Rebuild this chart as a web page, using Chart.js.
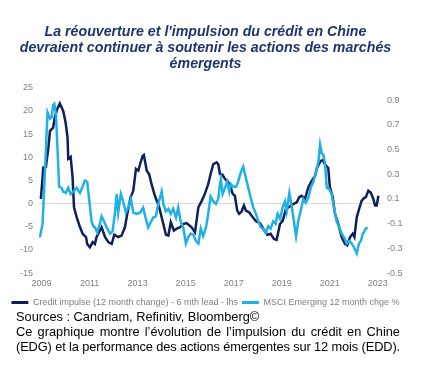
<!DOCTYPE html>
<html><head><meta charset="utf-8">
<script src="https://cdn.jsdelivr.net/npm/chart.js@4.4.1/dist/chart.umd.min.js"></script>
<style>
html,body{margin:0;padding:0;background:#fff;width:431px;height:372px;overflow:hidden}
#wrap{position:absolute;left:0;top:0;width:431px;height:317px}
#src{position:absolute;left:16px;top:309px;width:384px;font-family:'Liberation Sans',Arial,sans-serif;font-size:12.8px;line-height:15px;color:#000}
.j{text-align:justify;text-align-last:justify}
.t{letter-spacing:-0.12px}
</style></head><body>
<div id="wrap"><canvas id="c" width="431" height="317"></canvas></div>
<div id="src"><div>Sources : Candriam, Refinitiv, Bloomberg©</div><div class="j">Ce graphique montre l’évolution de l’impulsion du crédit en Chine</div><div class="j t">(EDG) et la performance des actions émergentes sur 12 mois (EDD).</div></div>
<script>
// Credit impulse (12 month change) - 6 mth lead - lhs
const creditDates = [2008.97,2009.07,2009.18,2009.28,2009.35,2009.48,2009.55,2009.65,2009.76,2009.90,2010.00,2010.08,2010.11,2010.21,2010.29,2010.35,2010.46,2010.60,2010.71,2010.85,2010.90,2011.01,2011.13,2011.22,2011.29,2011.43,2011.50,2011.64,2011.78,2011.92,2012.03,2012.19,2012.33,2012.47,2012.57,2012.71,2012.82,2012.93,2013.03,2013.10,2013.21,2013.26,2013.38,2013.48,2013.58,2013.72,2013.90,2014.07,2014.18,2014.28,2014.38,2014.51,2014.63,2014.76,2014.90,2015.04,2015.25,2015.39,2015.53,2015.67,2015.80,2015.94,2016.04,2016.15,2016.29,2016.36,2016.43,2016.54,2016.64,2016.78,2016.88,2016.96,2017.05,2017.15,2017.23,2017.33,2017.43,2017.51,2017.65,2017.79,2017.93,2018.10,2018.23,2018.40,2018.54,2018.68,2018.79,2018.93,2019.04,2019.18,2019.35,2019.48,2019.63,2019.73,2019.83,2019.97,2020.11,2020.25,2020.39,2020.48,2020.63,2020.71,2020.80,2020.94,2021.01,2021.13,2021.22,2021.36,2021.50,2021.64,2021.73,2021.85,2021.96,2022.03,2022.13,2022.23,2022.33,2022.43,2022.51,2022.61,2022.71,2022.82,2022.89,2022.96,2023.03];
const creditValues = [1.0,7.8,7.9,12.0,15.7,16.4,18.6,20.4,21.6,20.0,17.5,14.3,9.7,10.1,5.7,-0.8,-2.9,-5.1,-6.5,-7.2,-8.7,-9.4,-8.3,-8.7,-7.2,-5.8,-5.1,-7.2,-8.3,-8.7,-6.7,-7.2,-6.9,-5.1,-2.2,1.4,2.8,7.5,7.1,8.5,10.3,10.5,7.1,6.4,4.2,1.7,-0.8,-4.4,-6.7,-6.9,-4.0,-5.8,-5.4,-5.1,-4.4,-4.2,-5.1,-6.2,-0.8,0.6,2.1,4.2,6.4,8.5,8.9,8.5,6.4,6.2,5.3,4.6,3.5,2.1,1.7,-1.5,-2.2,-1.7,-0.4,-1.5,-1.9,-2.9,-3.8,-4.2,-5.4,-6.7,-6.5,-7.6,-7.8,-4.4,-3.7,-1.1,-0.6,-0.1,0.3,1.4,1.7,1.0,3.5,4.9,6.0,7.8,9.2,9.4,8.5,7.7,3.5,1.4,-2.2,-4.4,-7.2,-8.7,-9.0,-7.2,-6.5,-7.2,-2.9,-1.1,0.6,1.2,1.4,2.8,2.4,1.0,-0.4,-0.4,1.7];
// MSCI Emerging 12 month chge % - rhs
const msciDates = [2008.93,2009.04,2009.14,2009.21,2009.25,2009.35,2009.42,2009.48,2009.53,2009.60,2009.65,2009.73,2009.83,2009.90,2010.01,2010.11,2010.21,2010.32,2010.46,2010.60,2010.71,2010.80,2010.90,2010.98,2011.08,2011.15,2011.22,2011.32,2011.43,2011.50,2011.60,2011.71,2011.85,2011.96,2012.05,2012.13,2012.19,2012.30,2012.40,2012.51,2012.61,2012.72,2012.82,2012.96,2013.10,2013.23,2013.33,2013.44,2013.54,2013.65,2013.76,2013.86,2013.93,2014.00,2014.07,2014.18,2014.28,2014.38,2014.48,2014.60,2014.69,2014.79,2014.90,2015.01,2015.11,2015.21,2015.32,2015.43,2015.53,2015.63,2015.73,2015.85,2015.94,2016.04,2016.15,2016.26,2016.36,2016.43,2016.47,2016.54,2016.64,2016.73,2016.82,2016.88,2016.98,2017.10,2017.19,2017.29,2017.40,2017.51,2017.61,2017.71,2017.82,2017.93,2018.03,2018.13,2018.23,2018.35,2018.44,2018.54,2018.65,2018.75,2018.83,2018.93,2019.04,2019.14,2019.21,2019.32,2019.42,2019.51,2019.60,2019.69,2019.79,2019.90,2020.01,2020.11,2020.21,2020.32,2020.43,2020.53,2020.60,2020.67,2020.73,2020.80,2020.88,2020.98,2021.08,2021.18,2021.29,2021.40,2021.50,2021.60,2021.71,2021.82,2021.92,2022.01,2022.13,2022.22,2022.30,2022.38,2022.43,2022.50,2022.58];
const msciValues = [-0.21,-0.10,0.32,0.64,0.80,0.75,0.76,0.86,0.87,0.78,0.56,0.20,0.19,0.16,0.15,0.19,0.14,0.16,0.19,0.15,0.20,0.25,0.24,0.10,-0.08,-0.12,-0.13,-0.17,-0.10,-0.04,-0.08,-0.13,-0.18,-0.16,-0.02,0.14,-0.01,0.14,0.08,-0.01,0.03,0.10,-0.01,-0.02,-0.01,0.03,-0.05,-0.13,-0.09,-0.05,-0.04,0.06,0.11,0.16,0.06,0.00,0.02,-0.02,0.02,-0.05,0.03,-0.08,-0.13,-0.26,-0.21,-0.18,-0.19,-0.24,-0.26,-0.14,-0.20,-0.13,-0.02,0.12,0.08,0.06,0.10,0.22,0.26,0.14,0.19,0.24,0.16,0.22,0.20,0.20,0.24,0.31,0.36,0.27,0.19,0.11,0.03,-0.02,-0.08,-0.13,-0.14,-0.17,-0.12,-0.14,-0.08,-0.10,-0.02,-0.06,0.03,0.08,0.00,0.15,0.04,-0.08,-0.20,-0.08,0.00,0.10,0.07,0.11,0.19,0.24,0.32,0.40,0.54,0.47,0.46,0.40,0.19,0.18,0.14,0.03,-0.08,-0.13,-0.18,-0.21,-0.26,-0.24,-0.26,-0.29,-0.34,-0.26,-0.24,-0.18,-0.17,-0.14,-0.13];
const xTicks = [2009,2011,2013,2015,2017,2019,2021,2023];
const leftTicks = [-15,-10,-5,0,5,10,15,20,25];
const rightTicks = [-0.5,-0.3,-0.1,0.1,0.3,0.5,0.7,0.9];
const seriesNames = ['Credit impulse (12 month change) - 6 mth lead - lhs','MSCI Emerging 12 month chge %'];
const titleLines = ["La réouverture et l'impulsion du crédit en Chine","devraient continuer à soutenir les actions des marchés","émergents"];

const F = "'Liberation Sans', Arial, sans-serif";
const darkC = '#0f1f5c', lightC = '#1fb0e8', tickC = '#7f7f7f';
const pts = (xs, ys) => xs.map((x, i) => ({x, y: ys[i]}));

new Chart(document.getElementById('c'), {
  type: 'line',
  data: {
    datasets: [
      {label: seriesNames[0], data: pts(creditDates, creditValues), yAxisID: 'yL', borderColor: darkC, backgroundColor: darkC, borderWidth: 2.5, pointRadius: 0, tension: 0, order: 1},
      {label: seriesNames[1], data: pts(msciDates, msciValues), yAxisID: 'yR', borderColor: lightC, backgroundColor: lightC, borderWidth: 2.5, pointRadius: 0, tension: 0, order: 0}
    ]
  },
  options: {
    responsive: false, animation: false, devicePixelRatio: 1,
    layout: {padding: {left: 0, right: 20, top: 0, bottom: 0}},
    plugins: {
      tooltip: {enabled: false},
      title: {display: true, text: titleLines, color: '#1f3470', font: {family: F, size: 14.2, weight: 'bold', style: 'italic', lineHeight: 1.12}, padding: {top: 24, bottom: 16}},
      legend: {
        display: true, position: 'bottom', align: 'center',
        labels: {
          color: tickC, font: {family: F, size: 9}, boxWidth: 17, boxHeight: 3, padding: 4,
          generateLabels: ch => ch.data.datasets.map((d, i) => ({text: d.label, fillStyle: d.borderColor, strokeStyle: 'rgba(0,0,0,0)', lineWidth: 0, datasetIndex: i, fontColor: tickC}))
        }
      }
    },
    scales: {
      x: {
        type: 'linear', min: 2008.85, max: 2023.18,
        afterBuildTicks: s => { s.ticks = xTicks.map(v => ({value: v})); },
        ticks: {color: tickC, font: {family: F, size: 9}, padding: 5, maxRotation: 0, autoSkip: false, callback: v => String(v)},
        grid: {display: false, drawTicks: false}, border: {display: false}
      },
      yL: {
        position: 'left', min: -15, max: 25,
        afterBuildTicks: s => { s.ticks = leftTicks.map(v => ({value: v})); },
        afterFit: s => { s.width = 38; },
        ticks: {color: tickC, font: {family: F, size: 9}, padding: 5, callback: v => String(v)},
        grid: {drawTicks: false, color: c => (c.tick && c.tick.value === 0) ? '#dcdcdc' : 'rgba(0,0,0,0)', lineWidth: 1},
        border: {display: false}
      },
      yR: {
        position: 'right', min: -0.5, max: 1.0,
        afterBuildTicks: s => { s.ticks = rightTicks.map(v => ({value: v})); },
        afterFit: s => { s.width = 29; },
        ticks: {color: tickC, font: {family: F, size: 9}, padding: 5, callback: v => v.toFixed(1)},
        grid: {display: false, drawTicks: false}, border: {display: false}
      }
    }
  }
});
</script>
</body></html>
